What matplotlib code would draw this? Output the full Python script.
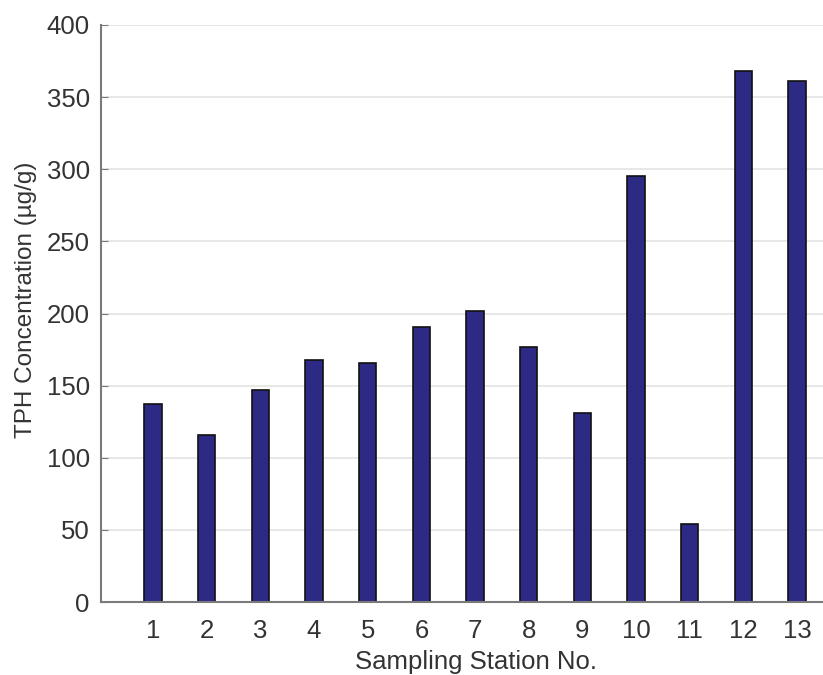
import matplotlib.pyplot as plt
import numpy as np

plt.rcParams['font.family'] = ['Liberation Sans', 'DejaVu Sans']

stations = np.arange(1, 14)
tph = [137, 116, 147, 168, 166, 191, 202, 177, 131, 295, 54, 368, 361]
yticks = [0, 50, 100, 150, 200, 250, 300, 350, 400]

fig = plt.figure(figsize=(8.23, 6.75), dpi=100)
ax = fig.add_axes([0.1227, 0.108, 0.911, 0.855])

ax.bar(stations, tph, width=0.32, color='#2d2a85', edgecolor='#111111', linewidth=1.2, zorder=3)

ax.set_xlim(0.03, 14)
ax.set_ylim(0, 400)
ax.set_xticks(stations)
ax.set_yticks(yticks)
ax.yaxis.grid(True, color='#e3e3e3', linewidth=1.2, zorder=0)

for s in ['top', 'right']:
    ax.spines[s].set_visible(False)
for s in ['left', 'bottom']:
    ax.spines[s].set_color('#7a7a7a')
    ax.spines[s].set_linewidth(1.5)
    ax.spines[s].set_zorder(4)

ax.tick_params(axis='both', direction='in', length=5, color='#7a7a7a',
               labelsize=18.5, labelcolor='#333333', pad=8)
ax.tick_params(axis='x', length=0, pad=12)

ax.set_xlabel('Sampling Station No.', fontsize=18.5, color='#333333', labelpad=5)
ax.set_ylabel('TPH Concentration (µg/g)', fontsize=17.5, color='#333333')
ax.yaxis.set_label_coords(-0.085, 0.523)

fig.savefig('out.png', dpi=100)
